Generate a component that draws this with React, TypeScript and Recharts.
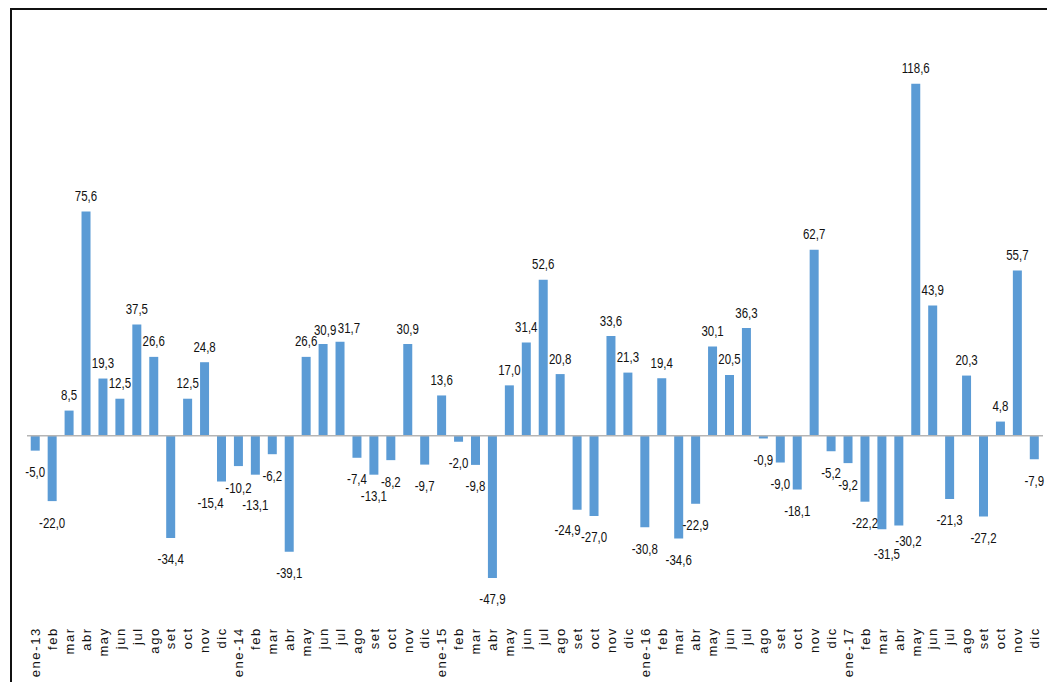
import React from "react";
import { BarChart, Bar, XAxis, YAxis, ReferenceLine, LabelList } from "recharts";

const categories = [
  "ene-13", "feb", "mar", "abr", "may", "jun", "jul", "ago", "set", "oct", "nov", "dic",
  "ene-14", "feb", "mar", "abr", "may", "jun", "jul", "ago", "set", "oct", "nov", "dic",
  "ene-15", "feb", "mar", "abr", "may", "jun", "jul", "ago", "set", "oct", "nov", "dic",
  "ene-16", "feb", "mar", "abr", "may", "jun", "jul", "ago", "set", "oct", "nov", "dic",
  "ene-17", "feb", "mar", "abr", "may", "jun", "jul", "ago", "set", "oct", "nov", "dic",
];

const values = [
  -5.0, -22.0, 8.5, 75.6, 19.3, 12.5, 37.5, 26.6, -34.4, 12.5, 24.8, -15.4,
  -10.2, -13.1, -6.2, -39.1, 26.6, 30.9, 31.7, -7.4, -13.1, -8.2, 30.9, -9.7,
  13.6, -2.0, -9.8, -47.9, 17.0, 31.4, 52.6, 20.8, -24.9, -27.0, 33.6, 21.3,
  -30.8, 19.4, -34.6, -22.9, 30.1, 20.5, 36.3, -0.9, -9.0, -18.1, 62.7, -5.2,
  -9.2, -22.2, -31.5, -30.2, 118.6, 43.9, -21.3, 20.3, -27.2, 4.8, 55.7, -7.9,
];

// small manual label nudges (as in the reference, where a few labels were moved to avoid overlaps)
const labelNudge: Record<number, [number, number]> = {
  11: [-11, 0],
  13: [0, 9],
  17: [2, 1],
  18: [9, 1.5],
  32: [-9.5, -1.5],
  50: [5, 3],
  51: [9.6, -6],
};

const data = categories.map((c, i) => ({ key: i, label: c, value: values[i] }));

const fmt = (v: number) => v.toFixed(1).replace(".", ",");

const renderLabel = (props: any) => {
  const vb = props.viewBox && props.viewBox.width != null ? props.viewBox : props;
  const bx = Number(vb.x);
  const by = Number(vb.y);
  const w = Number(vb.width);
  const h = Number(vb.height);
  const idx = Number(props.index);
  const v = props.value != null ? Number(props.value) : values[idx];
  const nudge = labelNudge[idx] || [0, 0];
  const cx = bx + w / 2 + nudge[0];
  const top = Math.min(by, by + h);
  const bottom = Math.max(by, by + h);
  const cy = (v >= 0 ? top - 15.5 : bottom + 21.5) + nudge[1];
  return (
    <text
      transform={`translate(${cx},${cy}) scale(0.82,1)`}
      x={0}
      y={0}
      textAnchor="middle"
      dominantBaseline="central"
      fontFamily="'Liberation Sans', Arial, sans-serif"
      fontSize={14}
      fill="#111"
    >
      {fmt(v)}
    </text>
  );
};

const Tick = (props: any) => {
  const { x, y, payload } = props;
  const label = categories[payload.value] ?? "";
  return (
    <text
      transform={`translate(${x},${y}) rotate(-90)`}
      textAnchor="end"
      dy="0.35em"
      fontFamily="'Liberation Sans', Arial, sans-serif"
      fontSize={13}
      letterSpacing={1.6}
      fill="#111"
    >
      {label}
    </text>
  );
};

export default function App() {
  return (
    <div
      style={{
        position: "fixed",
        left: 0,
        top: 0,
        width: 1047,
        height: 682,
        overflow: "hidden",
        background: "#fff",
      }}
    >
      <div
        style={{
          position: "absolute",
          left: 10,
          top: 8,
          width: 1100,
          height: 700,
          borderTop: "2px solid #111",
          borderLeft: "2px solid #111",
        }}
      />
      <div style={{ position: "absolute", left: 0, top: 0 }}>
        <BarChart
          width={1047}
          height={682}
          data={data}
          margin={{ top: 50, right: 4, left: 27, bottom: 7.8 }}
          barCategoryGap="22%"
        >
          <XAxis
            dataKey="key"
            type="category"
            interval={0}
            axisLine={false}
            tickLine={false}
            height={90}
            tickMargin={37}
            tick={<Tick />}
          />
          <YAxis hide domain={[-50, 130]} type="number" allowDataOverflow />
          <ReferenceLine y={0} stroke="#b5b5b5" strokeWidth={1.5} />
          <Bar dataKey="value" fill="#5b9bd5" isAnimationActive={false}>
            <LabelList dataKey="value" content={renderLabel} />
          </Bar>
        </BarChart>
      </div>
    </div>
  );
}
